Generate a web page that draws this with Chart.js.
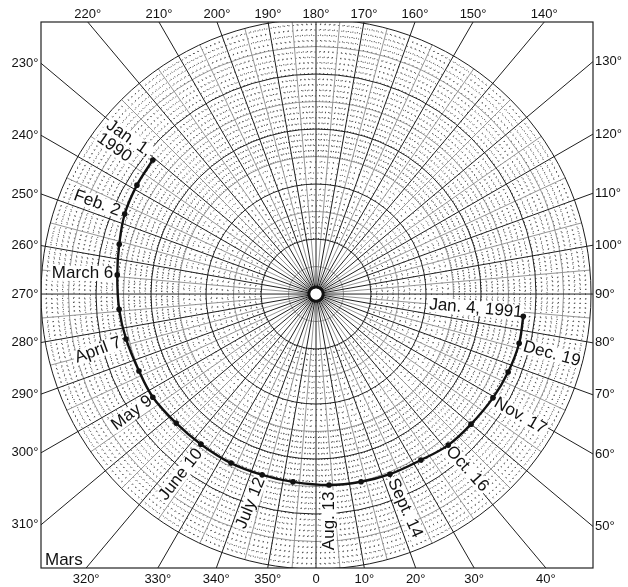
<!DOCTYPE html>
<html>
<head>
<meta charset="utf-8">
<script src="https://cdn.jsdelivr.net/npm/chart.js@4.4.1/dist/chart.umd.min.js"></script>
<style>
  html, body { margin: 0; padding: 0; background: #fff; }
  #wrap { position: relative; width: 628px; height: 587px; }
</style>
</head>
<body>
<div id="wrap"><canvas id="c"></canvas></div>
<script>
// Mars track, one position every 16 days from 1 Jan 1990 to 4 Jan 1991
const dates = ['1990-01-01','1990-01-17','1990-02-02','1990-02-18','1990-03-06','1990-03-22',
  '1990-04-07','1990-04-23','1990-05-09','1990-05-25','1990-06-10','1990-06-26','1990-07-12',
  '1990-07-28','1990-08-13','1990-08-29','1990-09-14','1990-09-30','1990-10-16','1990-11-01',
  '1990-11-17','1990-12-03','1990-12-19','1991-01-04'];
// longitude in degrees (0 at the bottom, increasing counter-clockwise)
const longitudes = [230.6, 238.7, 247.3, 255.8, 264.5, 274.4, 283.3, 293.5, 302.3, 312.7, 322.5, 333.3,
  343.4, 353.0, 3.9, 13.5, 22.3, 32.3, 41.2, 50.0, 59.6, 67.9, 76.4, 83.9];
// radial value (grid units, outer ring = 50)
const radii = [38.4, 38.1, 37.7, 36.9, 36.3, 35.9, 35.5, 35.1, 35.1, 34.6, 34.4, 34.4,
  34.3, 34.4, 34.8, 35.1, 35.4, 35.7, 36.5, 36.8, 37.3, 37.7, 38.0, 37.9];

// dated points that carry a text label
const labelIndex = [0, 2, 4, 6, 8, 10, 12, 14, 16, 18, 20, 22, 23];
const labelText = [['Jan. 1,', '1990'], ['Feb. 2'], ['March 6'], ['April 7'], ['May 9'], ['June 10'],
  ['July 12'], ['Aug. 13'], ['Sept. 14'], ['Oct. 16'], ['Nov. 17'], ['Dec. 19'], ['Jan. 4, 1991']];

// angle ticks round the frame
const angleTicks = [0,10,20,30,40,50,60,70,80,90,100,110,120,130,140,150,160,170,
  180,190,200,210,220,230,240,250,260,270,280,290,300,310,320,330,340,350];
const tickText = angleTicks.map(a => a === 0 ? '0' : a + '\u00B0');

const planetName = 'Mars';

// label placement: text rotation, alignment against the point, gap along, offset across
const labelLayout = [
  { rot: 35, align: 'right', gap: 6.5, perp: -4, lineGap: 16 },
  { rot: 20, align: 'right', gap: 5.5, perp: -0.5 },
  { rot: 0, align: 'right', gap: 4, perp: -1.5 },
  { rot: -20, align: 'right', gap: 6, perp: 1 },
  { rot: -37, align: 'right', gap: 3, perp: 0 },
  { rot: -52, align: 'right', gap: 6, perp: 3 },
  { rot: -68, align: 'right', gap: 3.5, perp: 0 },
  { rot: -90, align: 'right', gap: 6.5, perp: 0 },
  { rot: 66, align: 'left', gap: 5.5, perp: 0 },
  { rot: 48, align: 'left', gap: 3, perp: 2 },
  { rot: 30, align: 'left', gap: 4, perp: 2 },
  { rot: 15, align: 'left', gap: 5, perp: 2 },
  { rot: 5, align: 'right', gap: 1, perp: -3.5 }
];

const FONT = "'Liberation Sans', Arial, Helvetica, sans-serif";
const RAD = Math.PI / 180;

// polar (degrees, radius) -> cartesian chart values
const track = longitudes.map((a, i) => ({
  x: radii[i] * Math.sin(a * RAD),
  y: -radii[i] * Math.cos(a * RAD)
}));

function geom(chart) {
  const xs = chart.scales.x, ys = chart.scales.y;
  const cx = xs.getPixelForValue(0), cy = ys.getPixelForValue(0);
  const k = xs.getPixelForValue(1) - cx;
  return { cx, cy, k, a: chart.chartArea };
}

function radialLine(ctx, g, deg, r0, r1) {
  const s = Math.sin(deg * RAD), c = Math.cos(deg * RAD);
  ctx.moveTo(g.cx + r0 * g.k * s, g.cy + r0 * g.k * c);
  ctx.lineTo(g.cx + r1 * g.k * s, g.cy + r1 * g.k * c);
}

function drawGrid(ctx, g) {
  const a = g.a;
  ctx.save();
  ctx.fillStyle = '#fff';
  ctx.fillRect(a.left, a.top, a.right - a.left, a.bottom - a.top);
  ctx.beginPath();
  ctx.rect(a.left, a.top, a.right - a.left, a.bottom - a.top);
  ctx.clip();

  // dotted rings every unit
  ctx.strokeStyle = '#3a3a3a';
  ctx.lineWidth = 1;
  ctx.setLineDash([1, 3.5]);
  ctx.beginPath();
  for (let r = 11; r < 50; r++) {
    if (r % 5 === 0) continue;
    ctx.moveTo(g.cx + r * g.k, g.cy);
    ctx.arc(g.cx, g.cy, r * g.k, 0, Math.PI * 2);
  }
  ctx.stroke();

  // dotted spokes
  ctx.setLineDash([1, 4.5]);
  ctx.beginPath();
  for (let d = 0; d < 360; d += 2.5) {
    if (d % 5 === 0) continue;
    radialLine(ctx, g, d, 10, 25);
  }
  for (let d = 0; d < 360; d += 1) {
    if (d % 5 === 0) continue;
    radialLine(ctx, g, d, 25, 50);
  }
  ctx.stroke();
  ctx.setLineDash([]);

  // light rings and spokes every 5
  ctx.strokeStyle = '#8a8a8a';
  ctx.lineWidth = 0.9;
  ctx.beginPath();
  for (let r = 5; r < 50; r += 10) {
    ctx.moveTo(g.cx + r * g.k, g.cy);
    ctx.arc(g.cx, g.cy, r * g.k, 0, Math.PI * 2);
  }
  for (let d = 5; d < 360; d += 10) radialLine(ctx, g, d, 1.2, 50);
  ctx.stroke();

  // dark rings and 10-degree spokes running out to the frame
  ctx.strokeStyle = '#1e1e1e';
  ctx.lineWidth = 1;
  ctx.beginPath();
  for (let r = 10; r <= 50; r += 10) {
    ctx.moveTo(g.cx + r * g.k, g.cy);
    ctx.arc(g.cx, g.cy, r * g.k, 0, Math.PI * 2);
  }
  for (let d = 0; d < 360; d += 10) radialLine(ctx, g, d, 1.2, 80);
  ctx.stroke();

  // hub
  ctx.beginPath();
  ctx.arc(g.cx, g.cy, 1.3 * g.k, 0, Math.PI * 2);
  ctx.lineWidth = 3;
  ctx.strokeStyle = '#111';
  ctx.stroke();
  ctx.beginPath();
  ctx.arc(g.cx, g.cy, 0.95 * g.k, 0, Math.PI * 2);
  ctx.fillStyle = '#fff';
  ctx.fill();
  ctx.restore();
}

function drawDateLabels(chart, ctx, g) {
  const meta = chart.getDatasetMeta(0);
  ctx.save();
  ctx.font = '17px ' + FONT;
  ctx.textBaseline = 'middle';
  labelIndex.forEach((idx, j) => {
    const p = meta.data[idx];
    const L = labelLayout[j];
    const lines = labelText[j];
    ctx.save();
    ctx.translate(p.x, p.y);
    ctx.rotate(L.rot * RAD);
    const w0 = ctx.measureText(lines[0]).width;
    const start = L.align === 'right' ? -L.gap - w0 : L.gap;
    const rows = lines.map((t, n) => ({ t, x: start, y: L.perp + n * (L.lineGap || 0), w: ctx.measureText(t).width }));
    ctx.fillStyle = '#fff';
    rows.forEach(r => ctx.fillRect(r.x - 1.5, r.y - 7.5, r.w + 3, 15));
    ctx.fillStyle = '#111';
    ctx.textAlign = 'left';
    rows.forEach(r => ctx.fillText(r.t, r.x, r.y));
    ctx.restore();
  });
  ctx.restore();
}

function drawFrame(ctx, g) {
  const a = g.a;
  ctx.save();
  ctx.strokeStyle = '#222';
  ctx.lineWidth = 1.2;
  ctx.strokeRect(a.left, a.top, a.right - a.left, a.bottom - a.top);

  ctx.fillStyle = '#111';
  ctx.font = '13px ' + FONT;
  angleTicks.forEach((d, i) => {
    const s = Math.sin(d * RAD), c = Math.cos(d * RAD);
    const cand = [];
    if (s < -1e-9) cand.push({ t: (a.left - g.cx) / s, side: 'L' });
    if (s > 1e-9) cand.push({ t: (a.right - g.cx) / s, side: 'R' });
    if (c < -1e-9) cand.push({ t: (a.top - g.cy) / c, side: 'T' });
    if (c > 1e-9) cand.push({ t: (a.bottom - g.cy) / c, side: 'B' });
    cand.sort((p, q) => p.t - q.t);
    const hit = cand[0];
    const x = g.cx + hit.t * s, y = g.cy + hit.t * c;
    if (hit.side === 'L') { ctx.textAlign = 'right'; ctx.textBaseline = 'middle'; ctx.fillText(tickText[i], a.left - 2.5, y); }
    if (hit.side === 'R') { ctx.textAlign = 'left'; ctx.textBaseline = 'middle'; ctx.fillText(tickText[i], a.right + 2, y); }
    if (hit.side === 'T') { ctx.textAlign = 'center'; ctx.textBaseline = 'alphabetic'; ctx.fillText(tickText[i], x, a.top - 4); }
    if (hit.side === 'B') { ctx.textAlign = 'center'; ctx.textBaseline = 'alphabetic'; ctx.fillText(tickText[i], x, a.bottom + 15); }
  });

  ctx.font = '17px ' + FONT;
  ctx.textAlign = 'left';
  ctx.textBaseline = 'alphabetic';
  ctx.fillText(planetName, a.left + 4, a.bottom - 3);
  ctx.restore();
}

const paper = {
  id: 'polarPaper',
  beforeDatasetsDraw(chart) {
    const g = geom(chart);
    drawGrid(chart.ctx, g);
    drawDateLabels(chart, chart.ctx, g);
  },
  afterDatasetsDraw(chart) {
    drawFrame(chart.ctx, geom(chart));
  }
};

new Chart(document.getElementById('c'), {
  type: 'scatter',
  data: {
    labels: dates,
    datasets: [{
      label: planetName,
      data: track,
      showLine: true,
      tension: 0.35,
      borderColor: '#111',
      borderWidth: 2.4,
      pointRadius: 2.8,
      pointBackgroundColor: '#111',
      pointBorderWidth: 0
    }]
  },
  options: {
    responsive: true,
    maintainAspectRatio: false,
    devicePixelRatio: 1,
    animation: false,
    events: [],
    layout: { padding: { left: 41, top: 22, right: 35, bottom: 19 } },
    scales: {
      x: { type: 'linear', min: -50, max: 50.36, display: false },
      y: { type: 'linear', min: -49.8, max: 49.45, display: false }
    },
    plugins: { legend: { display: false }, tooltip: { enabled: false } }
  },
  plugins: [paper]
});
</script>
</body>
</html>
